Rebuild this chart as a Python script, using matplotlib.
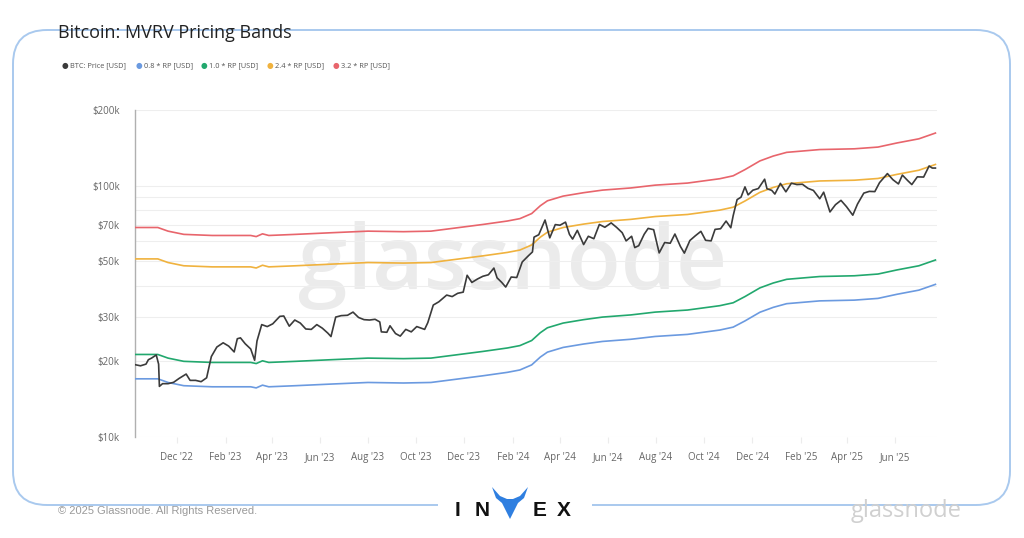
import matplotlib
matplotlib.use("Agg")
import matplotlib.pyplot as plt
import matplotlib.dates as mdates
from matplotlib.patches import FancyBboxPatch, Rectangle, Polygon
import pandas as pd

# Realized price (RP), USD
rp_dates = [
    "2022-10-09", "2022-11-07", "2022-11-20", "2022-12-10", "2023-01-15", "2023-03-05",
    "2023-03-12", "2023-03-20", "2023-03-28", "2023-05-01", "2023-06-15", "2023-08-01",
    "2023-09-15", "2023-10-20", "2023-11-20", "2023-12-25", "2024-01-25", "2024-02-10",
    "2024-02-25", "2024-03-07", "2024-03-16", "2024-04-05", "2024-05-01", "2024-05-25",
    "2024-06-30", "2024-07-31", "2024-09-10", "2024-10-21", "2024-11-07", "2024-11-22",
    "2024-12-11", "2024-12-28", "2025-01-14", "2025-02-25", "2025-04-10", "2025-05-10",
    "2025-06-03", "2025-07-01", "2025-07-22",
]
rp_values = [
    21300, 21300, 20600, 20000, 19800, 19800,
    19600, 20100, 19800, 20000, 20300, 20600,
    20500, 20600, 21200, 21900, 22600, 23100,
    24200, 26000, 27200, 28400, 29300, 30000,
    30600, 31400, 32000, 33300, 34200, 36200,
    39200, 41000, 42400, 43500, 43800, 44500,
    46200, 48000, 50600,
]

# BTC price, USD
price_dates = [
    "2022-10-09", "2022-10-16", "2022-10-23", "2022-10-26", "2022-10-30", "2022-11-05",
    "2022-11-08", "2022-11-09", "2022-11-13", "2022-11-20", "2022-11-27", "2022-12-04",
    "2022-12-13", "2022-12-18", "2022-12-25", "2023-01-01", "2023-01-08", "2023-01-14",
    "2023-01-21", "2023-01-29", "2023-02-05", "2023-02-12", "2023-02-16", "2023-02-20",
    "2023-02-26", "2023-03-05", "2023-03-10", "2023-03-13", "2023-03-19", "2023-03-26",
    "2023-04-02", "2023-04-11", "2023-04-16", "2023-04-23", "2023-04-30", "2023-05-07",
    "2023-05-14", "2023-05-21", "2023-05-28", "2023-06-04", "2023-06-11", "2023-06-15",
    "2023-06-21", "2023-06-28", "2023-07-06", "2023-07-13", "2023-07-20", "2023-07-27",
    "2023-08-03", "2023-08-10", "2023-08-16", "2023-08-18", "2023-08-25", "2023-08-29",
    "2023-09-05", "2023-09-11", "2023-09-18", "2023-09-25", "2023-10-02", "2023-10-12",
    "2023-10-16", "2023-10-23", "2023-10-30", "2023-11-09", "2023-11-16", "2023-11-23",
    "2023-11-30", "2023-12-05", "2023-12-11", "2023-12-18", "2023-12-25", "2024-01-01",
    "2024-01-08", "2024-01-12", "2024-01-18", "2024-01-23", "2024-01-30", "2024-02-06",
    "2024-02-13", "2024-02-20", "2024-02-26", "2024-02-28", "2024-03-05", "2024-03-13",
    "2024-03-19", "2024-03-26", "2024-04-01", "2024-04-08", "2024-04-13", "2024-04-17",
    "2024-04-23", "2024-05-01", "2024-05-07", "2024-05-14", "2024-05-21", "2024-05-28",
    "2024-06-05", "2024-06-12", "2024-06-19", "2024-06-24", "2024-07-01", "2024-07-05",
    "2024-07-10", "2024-07-17", "2024-07-22", "2024-07-29", "2024-08-05", "2024-08-12",
    "2024-08-19", "2024-08-25", "2024-09-01", "2024-09-06", "2024-09-13", "2024-09-20",
    "2024-09-27", "2024-10-03", "2024-10-10", "2024-10-15", "2024-10-22", "2024-10-29",
    "2024-11-04", "2024-11-07", "2024-11-12", "2024-11-17", "2024-11-22", "2024-11-26",
    "2024-12-02", "2024-12-09", "2024-12-17", "2024-12-20", "2024-12-26", "2024-12-30",
    "2025-01-06", "2025-01-13", "2025-01-20", "2025-01-27", "2025-02-03", "2025-02-10",
    "2025-02-17", "2025-02-25", "2025-03-02", "2025-03-10", "2025-03-17", "2025-03-24",
    "2025-03-31", "2025-04-08", "2025-04-14", "2025-04-22", "2025-04-29", "2025-05-06",
    "2025-05-12", "2025-05-22", "2025-05-29", "2025-06-05", "2025-06-10", "2025-06-17",
    "2025-06-22", "2025-06-29", "2025-07-07", "2025-07-14", "2025-07-18", "2025-07-22",
]
price_values = [
    19400, 19200, 19500, 20300, 20600, 21200,
    19500, 15900, 16300, 16300, 16500, 17100,
    17800, 16800, 16800, 16600, 17200, 20900,
    22800, 23700, 23000, 21800, 24600, 24800,
    23500, 22400, 20200, 24100, 28000, 27500,
    28200, 30200, 30300, 27600, 29200, 28400,
    26900, 26800, 28000, 27100, 25900, 25100,
    30000, 30400, 30500, 31400, 29900, 29300,
    29200, 29400, 28700, 26200, 26100, 27700,
    25800, 25200, 26800, 26200, 27500, 26800,
    28500, 33500, 34500, 36700, 36200, 37300,
    37700, 44000, 41200, 42500, 43600, 44200,
    47000, 43000, 41200, 39500, 43300, 43100,
    49700, 52300, 54500, 62400, 63800, 73000,
    62000, 70000, 69600, 71600, 64000, 61300,
    66400, 58300, 62900, 61500, 70100, 68300,
    71100, 68200, 65000, 60300, 62900, 56700,
    57700, 64100, 67600, 66800, 54000, 59400,
    59000, 64200, 57300, 53900, 60500, 63200,
    65800, 60600, 60300, 67000, 67400, 72300,
    68000, 75900, 88000, 90000, 98900, 91900,
    95900, 97400, 106100, 97200, 95800, 92600,
    102100, 94500, 102300, 101000, 101300, 97600,
    95700, 88700, 94200, 78600, 84000, 87400,
    82500, 76300, 84500, 93400, 94900, 94700,
    102800, 111700, 105600, 101600, 110200, 104600,
    101000, 108400, 108200, 119800, 117500, 117500,
]

band_mults = [0.8, 1.0, 2.4, 3.2]
band_labels = ["0.8 * RP [USD]", "1.0 * RP [USD]", "2.4 * RP [USD]", "3.2 * RP [USD]"]
band_colors = ["#6b9ae0", "#22a86e", "#f0b23e", "#e8656c"]
price_label = "BTC: Price [USD]"
price_color = "#3b3b3b"

ytick_vals = [10000, 20000, 30000, 50000, 70000, 100000, 200000]
ytick_labels = ["$10k", "$20k", "$30k", "$50k", "$70k", "$100k", "$200k"]
ygrid_vals = [40000, 60000, 80000, 90000]

rp_x = pd.to_datetime(rp_dates)
price_x = pd.to_datetime(price_dates)

W, H = 1024, 538
fig = plt.figure(figsize=(W / 100, H / 100), dpi=100)
fig.patch.set_facecolor("white")


def px(x, y):
    # pixel position (from top-left) -> inches for fig.dpi_scale_trans
    return (x / 100, (H - y) / 100)


# rounded frame around the chart
frame = FancyBboxPatch(px(13, 505), (1010 - 13) / 100, (505 - 30) / 100,
                       boxstyle="round,pad=0,rounding_size=0.34",
                       transform=fig.dpi_scale_trans, fill=False,
                       edgecolor="#a9c9ee", linewidth=1.4, zorder=0)
fig.add_artist(frame)
# gap in the bottom line for the logo
fig.add_artist(Rectangle(px(438, 522), 1.54, 0.3, transform=fig.dpi_scale_trans,
                         facecolor="white", edgecolor="none", zorder=1))

ax = fig.add_axes([135 / W, (H - 437) / H, (937 - 135) / W, (437 - 110) / H])
ax.set_facecolor("none")

for mult, lab, col in zip(band_mults, band_labels, band_colors):
    ax.plot(rp_x, [mult * v for v in rp_values], color=col, linewidth=1.2, zorder=3)
ax.plot(price_x, price_values, color=price_color, linewidth=1.2, zorder=4)

ax.set_yscale("log")
ax.set_ylim(10000, 200000)
ax.set_xlim(pd.Timestamp("2022-10-09"), pd.Timestamp("2025-07-24"))

ax.set_yticks(ytick_vals)
ax.set_yticklabels(ytick_labels)
ax.set_yticks(ygrid_vals, minor=True)
ax.yaxis.set_minor_formatter(matplotlib.ticker.NullFormatter())
ax.grid(True, which="both", axis="y", color="#eeeeee", linewidth=0.8, zorder=0)
ax.tick_params(axis="y", which="both", length=0, pad=11, labelsize=7,
               labelcolor="#666666")

ax.xaxis.set_major_locator(mdates.MonthLocator(bymonth=[2, 4, 6, 8, 10, 12]))
ax.xaxis.set_major_formatter(mdates.DateFormatter("%b '%y"))
ax.tick_params(axis="x", length=4, color="#ececec", pad=7, labelsize=7,
               labelcolor="#666666")

for s in ["top", "right", "bottom"]:
    ax.spines[s].set_visible(False)
ax.spines["left"].set_color("#b0b0b0")
ax.spines["left"].set_linewidth(1.0)

for lbl in ax.get_xticklabels() + ax.get_yticklabels():
    lbl.set_family(["Open Sans", "DejaVu Sans"])

# watermark
ax.text((513 - 135) / 802, (437 - 266) / 327, "glassnode", transform=ax.transAxes,
        ha="center", va="center", fontsize=64, fontweight="semibold", color="#ebebeb",
        family=["Open Sans", "DejaVu Sans"], zorder=1)

# title
fig.text(58 / W, 1 - 33 / H, "Bitcoin: MVRV Pricing Bands", fontsize=13,
         color="#222222", va="center", ha="left", family=["Open Sans", "DejaVu Sans"])

# legend
leg_x = [65, 139, 204, 270, 336]
leg_labels = [price_label] + band_labels
leg_colors = [price_color] + band_colors
for x, lab, col in zip(leg_x, leg_labels, leg_colors):
    fig.text(x / W, 1 - 65.5 / H, "\u25CF", color=col, fontsize=5.5,
             ha="center", va="center", family="DejaVu Sans")
    fig.text((x + 5) / W, 1 - 65.5 / H, lab, color="#555555", fontsize=5.3,
             ha="left", va="center", family=["Open Sans", "DejaVu Sans"])

# footer
fig.text(58 / W, 1 - 511 / H, "\u00A9 2025 Glassnode. All Rights Reserved.",
         fontsize=8, color="#9a9a9a", ha="left", va="center",
         family=["Liberation Sans", "DejaVu Sans"], zorder=2)
fig.text(906 / W, 1 - 511 / H, "glassnode", fontsize=17, color="#d0d0d0",
         ha="center", va="center", family=["Open Sans", "DejaVu Sans"], zorder=2)

# INVEX logo
for x, ch in zip([457, 482, 540, 564], ["I", "N", "E", "X"]):
    fig.text(x / W, 1 - 511 / H, ch, fontsize=15, fontweight="bold", color="#111111",
             ha="center", va="center", family=["Liberation Sans", "DejaVu Sans"], zorder=3)
v_pts = [(492, 487), (500, 496), (507, 499), (513, 499), (520, 496), (528, 487),
         (524, 498), (518, 503), (510, 519), (502, 503), (496, 498)]
fig.add_artist(Polygon([px(x, y) for x, y in v_pts], closed=True,
                       transform=fig.dpi_scale_trans, facecolor="#2f7fe0",
                       edgecolor="none", zorder=3))

fig.savefig("out.png", dpi=100)
